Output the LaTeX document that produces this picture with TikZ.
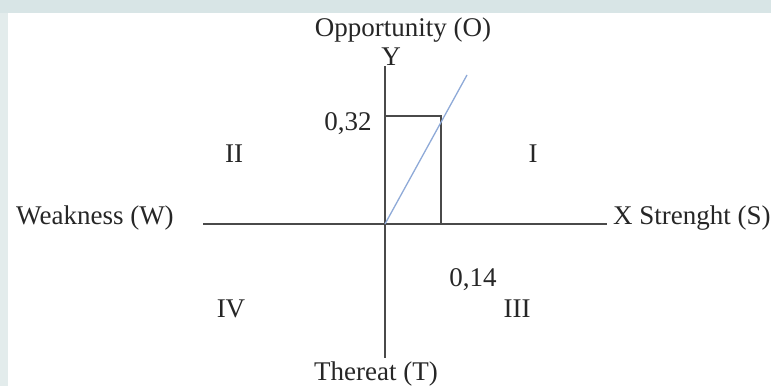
\documentclass[tikz,border=0pt]{standalone}
\usepackage{fontspec}
\setmainfont{Liberation Serif}
\definecolor{band}{HTML}{D8E5E6}
\definecolor{strip}{HTML}{E3ECEC}
\definecolor{axis}{HTML}{4A4A4A}
\definecolor{txt}{HTML}{262626}
\definecolor{diag}{HTML}{8FAAD8}
\tikzset{
  lbl/.style={inner sep=0pt, text=txt, font=\fontsize{27}{32}\selectfont},
  axisline/.style={draw=axis, line width=1.4pt},
  diagline/.style={draw=diag, line width=1.3pt}
}
\begin{document}
\begin{tikzpicture}[x=1pt,y=-1pt]
\useasboundingbox (0,0) rectangle (771,386);
\fill[white] (0,0) rectangle (771,386);
\fill[strip] (0,0) rectangle (8,386);
\fill[band] (0,0) rectangle (771,12.5);
% labels
\node[lbl, anchor=base] (opp) at (403,36) {Opportunity (O)};
\node[lbl, anchor=base] (ylab) at (391,65) {Y};
\node[lbl, anchor=base] (v32) at (348,130) {0,32};
\node[lbl, anchor=base] (q2) at (234,162) {II};
\node[lbl, anchor=base] (q1) at (533,162) {I};
\node[lbl, anchor=base] (weak) at (95,224) {Weakness (W)};
\node[lbl, anchor=base west] (str) at (613,224) {X Strenght (S)};
\node[lbl, anchor=base] (v14) at (473,286) {0,14};
\node[lbl, anchor=base] (q3) at (517,317) {III};
\node[lbl, anchor=base] (q4) at (231,317) {IV};
\node[lbl, anchor=base] (thr) at (376,380) {Thereat (T)};
% axes
\coordinate (ytop) at (385,66);
\coordinate (ybot) at (385,358);
\coordinate (xl) at (203,224);
\coordinate (xr) at (607,224);
\coordinate (o) at (385,224);
\coordinate (p) at (441,116);
\coordinate (dend) at (467,75);
\draw[axisline] (ytop) -- (ybot);
\draw[axisline] (xl) -- (xr);
\draw[axisline] (o |- p) -- (p) -- (p |- o);
\draw[diagline] (o) -- (dend);
\end{tikzpicture}
\end{document}
